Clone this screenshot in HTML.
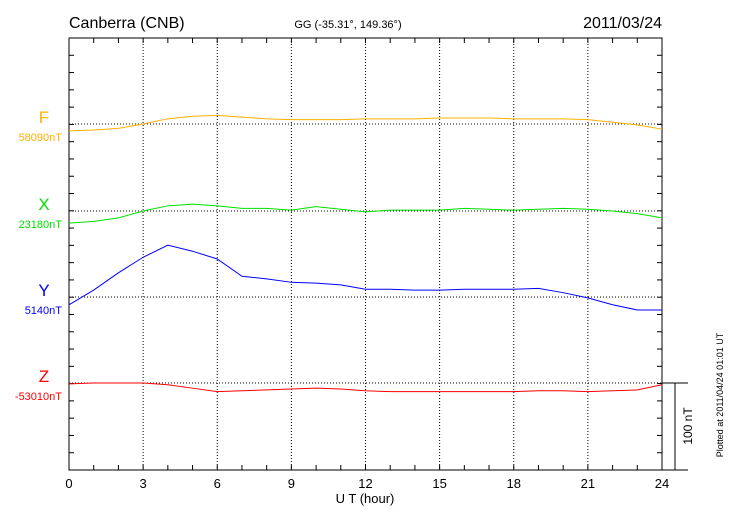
<!DOCTYPE html>
<html><head><meta charset="utf-8"><style>
body{margin:0;background:#fff}
svg{display:block;font-family:"Liberation Sans",sans-serif}
</style></head><body>
<svg id="c" width="730" height="520" xmlns="http://www.w3.org/2000/svg">
<text x="69" y="28" font-size="16">Canberra (CNB)</text>
<text x="348" y="28" font-size="11" text-anchor="middle">GG (-35.31°, 149.36°)</text>
<text x="662" y="28" font-size="16" text-anchor="end">2011/03/24</text>
<text x="365" y="503" font-size="13" text-anchor="middle">U T (hour)</text>
<text transform="translate(723,395) rotate(-90)" font-size="9" text-anchor="middle">Plotted at 2011/04/24 01:01  UT</text>
<text transform="translate(692,426) rotate(-90)" font-size="12" text-anchor="middle">100 nT</text>
<g id="g"></g>
</svg>
<script>
const hours=[0,1,2,3,4,5,6,7,8,9,10,11,12,13,14,15,16,17,18,19,20,21,22,23,24];
const xTicks=[0,3,6,9,12,15,18,21,24];
const names=["F","X","Y","Z"];
const bases=[58090,23180,5140,-53010];
const colors=["#ffb000","#00e000","#0000ff","#ff0000"];
const fVals=[58082,58083,58085,58090,58096,58099,58100,58098,58096,58095,58095,58095,58096,58096,58096,58097,58097,58097,58096,58096,58096,58095,58092,58089,58084];
const xVals=[23166,23168,23172,23180,23186,23188,23186,23183,23183,23181,23185,23182,23179,23181,23181,23181,23183,23182,23181,23182,23183,23182,23180,23177,23172];
const yVals=[5131,5148,5168,5186,5200,5193,5184,5164,5161,5157,5156,5154,5149,5149,5148,5148,5149,5149,5149,5150,5145,5139,5131,5125,5125];
const zVals=[-53011,-53010,-53010,-53010,-53012,-53016,-53020,-53019,-53018,-53017,-53016,-53017,-53019,-53020,-53020,-53020,-53020,-53020,-53020,-53019,-53019,-53020,-53019,-53018,-53012];
const series=[fVals,xVals,yVals,zVals];
const L=69,R=662,T=38,B=470,pxPerNT=0.864;
const baseY=[124,211,297,383];
const xs=h=>L+(R-L)*h/24;
const ys=(i,v)=>baseY[i]-(v-bases[i])*pxPerNT;
const g=document.getElementById('g');
const NS="http://www.w3.org/2000/svg";
function mk(t,a){const e=document.createElementNS(NS,t);for(const k in a)e.setAttribute(k,a[k]);g.appendChild(e);return e;}
// grid
xTicks.slice(1,-1).forEach(h=>{const e=mk('line',{x1:xs(h),x2:xs(h),y1:T,y2:B,stroke:'#000','stroke-width':1,'stroke-dasharray':'1,2'});

});
baseY.forEach((y,i)=>{const e=mk('line',{x1:L,x2:R,y1:y,y2:y,stroke:'#000','stroke-width':1,'stroke-dasharray':'1,2'});

});
// frame
let fr=mk('rect',{x:L,y:T,width:R-L,height:B-T,fill:'none',stroke:'#000','stroke-width':1});


for(let h=0;h<=24;h++){const x=xs(h);mk('line',{x1:x,x2:x,y1:B,y2:B-5,stroke:'#000'});mk('line',{x1:x,x2:x,y1:T,y2:T+5,stroke:'#000'});}
for(let k=0;k<=25;k++){const y=B-k*pxPerNT*20;if(y<T)break;mk('line',{x1:L,x2:L+5,y1:y,y2:y,stroke:'#000'});mk('line',{x1:R,x2:R-5,y1:y,y2:y,stroke:'#000'});}
xTicks.forEach(h=>{const t=mk('text',{x:xs(h),y:488,'font-size':13,'text-anchor':'middle'});t.textContent=h;

});
// scale bar
let sb=mk('path',{d:`M${R} 383H688M675 383V${B}M${R} ${B}H688`,stroke:'#000',fill:'none'});


// series
series.forEach((vals,i)=>{
 const p=mk('polyline',{points:vals.map((v,j)=>xs(hours[j])+','+ys(i,v)).join(' '),fill:'none',stroke:colors[i],'stroke-width':1});
 
 
 const a=mk('text',{x:44,y:baseY[i]-1,'font-size':17,fill:colors[i],'text-anchor':'middle'});a.textContent=names[i];
 
 
 const b=mk('text',{x:62,y:baseY[i]+17,'font-size':11,fill:colors[i],'text-anchor':'end'});b.textContent=bases[i]+'nT';
 
 
});
</script>
</body></html>
